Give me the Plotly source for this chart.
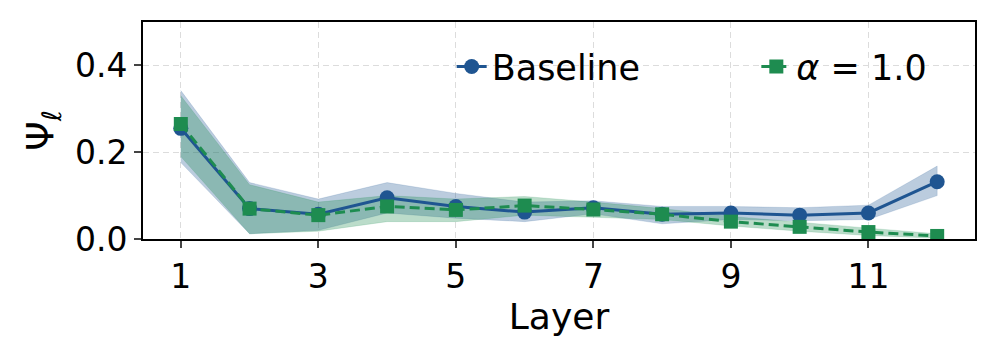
import plotly.graph_objects as go

layers = list(range(1, 13))

baseline = [0.255, 0.070, 0.057, 0.095, 0.075, 0.062, 0.072, 0.057, 0.060, 0.055, 0.060, 0.132]
baseline_lo = [0.176, 0.012, 0.020, 0.060, 0.048, 0.040, 0.058, 0.035, 0.045, 0.042, 0.045, 0.100]
baseline_hi = [0.342, 0.130, 0.092, 0.130, 0.105, 0.085, 0.088, 0.075, 0.075, 0.072, 0.078, 0.168]

alpha = [0.265, 0.070, 0.055, 0.075, 0.067, 0.077, 0.068, 0.057, 0.040, 0.028, 0.016, 0.007]
alpha_lo = [0.190, 0.012, 0.018, 0.040, 0.040, 0.055, 0.050, 0.045, 0.030, 0.018, 0.008, 0.002]
alpha_hi = [0.330, 0.125, 0.085, 0.100, 0.092, 0.098, 0.085, 0.070, 0.052, 0.038, 0.025, 0.012]

blue = '#1f5591'
green = '#1e8c50'

fig = go.Figure()

# shaded bands
fig.add_trace(go.Scatter(x=layers + layers[::-1], y=baseline_hi + baseline_lo[::-1],
                         fill='toself', fillcolor='rgba(31,85,145,0.3)',
                         line=dict(color='rgba(31,85,145,0.15)', width=1),
                         showlegend=False, hoverinfo='skip'))
fig.add_trace(go.Scatter(x=layers + layers[::-1], y=alpha_hi + alpha_lo[::-1],
                         fill='toself', fillcolor='rgba(30,140,80,0.3)',
                         line=dict(color='rgba(30,140,80,0.15)', width=1),
                         showlegend=False, hoverinfo='skip'))

# non-breaking spaces give the gap between the two legend entries
fig.add_trace(go.Scatter(x=layers, y=baseline, mode='lines+markers', name='Baseline' + '\u00a0' * 10,
                         line=dict(color=blue, width=3),
                         marker=dict(symbol='circle', size=15, color=blue)))
fig.add_trace(go.Scatter(x=layers, y=alpha, mode='lines+markers', name='<i>α</i> = 1.0',
                         line=dict(color=green, width=3, dash='10px,5px'),
                         marker=dict(symbol='square', size=14, color=green)))

# the page body adds an 8px offset, margins are set to compensate
fig.update_layout(
    width=996, height=356,
    margin=dict(l=135, r=29, t=14, b=125),
    plot_bgcolor='white', paper_bgcolor='white',
    font=dict(family='DejaVu Sans', size=33, color='black'),
    legend=dict(orientation='h', x=0.371, y=0.93, xanchor='left', yanchor='top',
                bgcolor='rgba(0,0,0,0)', font=dict(size=35)),
    xaxis=dict(range=[0.45, 12.55], tickmode='array', tickvals=[1, 3, 5, 7, 9, 11],
               title=dict(text='Layer', font=dict(size=36), standoff=4),
               automargin=False,
               showline=True, linecolor='black', linewidth=2, mirror=True,
               ticks='outside', ticklen=7, tickwidth=1.5,
               showgrid=True, gridcolor='#dcdcdc', griddash='6px,4px', gridwidth=1, zeroline=False),
    yaxis=dict(range=[0, 0.5], tickmode='array', tickvals=[0.0, 0.2, 0.4],
               ticktext=['0.0', '0.2', '0.4'],
               title=dict(text='Ψ<sub>ℓ</sub>', font=dict(size=38), standoff=10),
               automargin=False,
               showline=True, linecolor='black', linewidth=2, mirror=True,
               ticks='outside', ticklen=7, tickwidth=1.5,
               showgrid=True, gridcolor='#dcdcdc', griddash='6px,4px', gridwidth=1, zeroline=False),
)

fig.write_html("out.html")
